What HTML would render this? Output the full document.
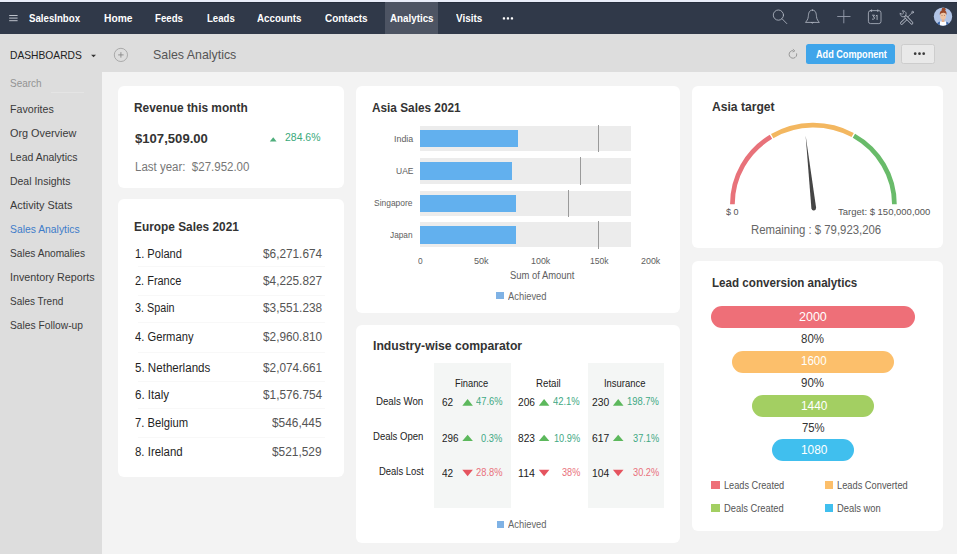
<!DOCTYPE html>
<html>
<head>
<meta charset="utf-8">
<style>
*{box-sizing:border-box;margin:0;padding:0}
html,body{width:957px;height:554px;overflow:hidden}
body{font-family:"Liberation Sans",sans-serif;background:#f3f3f3;position:relative}
.a{position:absolute}
.t{position:absolute;white-space:nowrap;line-height:1;transform-origin:0 0}
</style>
</head>
<body>
<div class="a" style="left:0.0px;top:0.0px;width:957.0px;height:2.0px;background:#e9edf9"></div>
<div class="a" style="left:0.0px;top:1.7px;width:957.0px;height:32.3px;background:#303949"></div>
<div class="a" style="left:0.0px;top:1.7px;width:957.0px;height:1.0px;background:#272f3e"></div>
<div class="a" style="left:385.1px;top:2.0px;width:53.3px;height:32.0px;background:#4d5463"></div>
<div class="a" style="left:0.0px;top:34.0px;width:957.0px;height:38.4px;background:#dddddd"></div>
<div class="a" style="left:0.0px;top:72.4px;width:102.0px;height:481.6px;background:#dddddd"></div>
<div class="a" style="left:118.0px;top:86.0px;width:226.0px;height:102.2px;background:#fff;border-radius:6px"></div>
<div class="a" style="left:118.0px;top:199.0px;width:226.0px;height:277.5px;background:#fff;border-radius:6px"></div>
<div class="a" style="left:355.5px;top:86.2px;width:324.9px;height:227.0px;background:#fff;border-radius:6px"></div>
<div class="a" style="left:355.5px;top:325.3px;width:324.9px;height:217.3px;background:#fff;border-radius:6px"></div>
<div class="a" style="left:692.0px;top:86.0px;width:250.5px;height:161.8px;background:#fff;border-radius:6px"></div>
<div class="a" style="left:692.0px;top:260.8px;width:250.5px;height:270.7px;background:#fff;border-radius:6px"></div>
<div class="a" style="left:806.0px;top:43.7px;width:88.7px;height:20.1px;background:#3fa5ea;border-radius:2.5px"></div>
<div class="a" style="left:901.3px;top:43.6px;width:34.2px;height:20.2px;background:#e9e9e9;border-radius:2.5px;border:1px solid #cdcdcd"></div>
<div class="a" style="left:50.6px;top:92.3px;width:33.5px;height:0.9px;background:#e4e4e4"></div>
<div class="a" style="left:138.0px;top:266.3px;width:187.0px;height:1.0px;background:#f8f8f8"></div>
<div class="a" style="left:138.0px;top:294.7px;width:187.0px;height:1.0px;background:#f8f8f8"></div>
<div class="a" style="left:138.0px;top:321.8px;width:187.0px;height:1.0px;background:#f8f8f8"></div>
<div class="a" style="left:138.0px;top:351.5px;width:187.0px;height:1.0px;background:#f8f8f8"></div>
<div class="a" style="left:138.0px;top:381.0px;width:187.0px;height:1.0px;background:#f8f8f8"></div>
<div class="a" style="left:138.0px;top:408.0px;width:187.0px;height:1.0px;background:#f8f8f8"></div>
<div class="a" style="left:138.0px;top:436.5px;width:187.0px;height:1.0px;background:#f8f8f8"></div>
<div class="a" style="left:420.3px;top:125.5px;width:211.1px;height:25.7px;background:#ececec"></div>
<div class="a" style="left:420.3px;top:129.7px;width:97.4px;height:17.8px;background:#62b0ee"></div>
<div class="a" style="left:597.5px;top:124.7px;width:1.1px;height:27.7px;background:#9a9a9a"></div>
<div class="a" style="left:420.3px;top:158.2px;width:211.1px;height:25.9px;background:#ececec"></div>
<div class="a" style="left:420.3px;top:162.4px;width:91.3px;height:17.4px;background:#62b0ee"></div>
<div class="a" style="left:579.7px;top:157.4px;width:1.1px;height:27.9px;background:#9a9a9a"></div>
<div class="a" style="left:420.3px;top:190.7px;width:211.1px;height:24.9px;background:#ececec"></div>
<div class="a" style="left:420.3px;top:194.9px;width:95.6px;height:17.4px;background:#62b0ee"></div>
<div class="a" style="left:568.0px;top:189.9px;width:1.1px;height:26.9px;background:#9a9a9a"></div>
<div class="a" style="left:420.3px;top:221.9px;width:211.1px;height:25.6px;background:#ececec"></div>
<div class="a" style="left:420.3px;top:226.2px;width:95.6px;height:17.4px;background:#62b0ee"></div>
<div class="a" style="left:597.5px;top:221.1px;width:1.1px;height:27.6px;background:#9a9a9a"></div>
<div class="a" style="left:496.2px;top:291.6px;width:7.6px;height:7.8px;background:#7fb2e5"></div>
<div class="a" style="left:434.2px;top:362.6px;width:76.7px;height:145.5px;background:#f4f6f5"></div>
<div class="a" style="left:588.0px;top:362.6px;width:76.4px;height:145.5px;background:#f4f6f5"></div>
<div class="a" style="left:497.4px;top:521.2px;width:7.1px;height:7.1px;background:#7fb2e5"></div>
<div class="a" style="left:710.6px;top:306.2px;width:204.6px;height:22.1px;background:#ee6f78;border-radius:11.2px"></div>
<div class="a" style="left:731.9px;top:350.8px;width:162.6px;height:22.0px;background:#fcbf6b;border-radius:11.2px"></div>
<div class="a" style="left:751.8px;top:394.9px;width:122.2px;height:22.0px;background:#a3cf62;border-radius:11.2px"></div>
<div class="a" style="left:771.7px;top:439.0px;width:82.4px;height:22.2px;background:#40bfee;border-radius:11.2px"></div>
<div class="a" style="left:711.4px;top:481.3px;width:8.3px;height:8.0px;background:#ee6f78"></div>
<div class="a" style="left:824.9px;top:481.3px;width:8.3px;height:8.0px;background:#fcbf6b"></div>
<div class="a" style="left:711.4px;top:504.4px;width:8.3px;height:8.0px;background:#a3cf62"></div>
<div class="a" style="left:824.9px;top:504.4px;width:8.3px;height:8.0px;background:#40bfee"></div>
<svg class="a" style="left:0;top:0" width="957" height="554" viewBox="0 0 957 554"><path d="M732.40 204.30A81.0 79.2 0 0 1 770.96 136.84" stroke="#e8727a" stroke-width="4.7" fill="none"/><path d="M772.17 136.13A81.0 79.2 0 0 1 852.67 135.03" stroke="#f3b760" stroke-width="4.7" fill="none"/><path d="M853.90 135.71A81.0 79.2 0 0 1 894.40 204.30" stroke="#69bb6a" stroke-width="4.7" fill="none"/><path d="M805.6 135.3L816.1 207.8A2.4 2.8 0 0 1 811.4 208.6Z" fill="#454545"/><path d="M269.8 141.4L273.2 137.2L276.6 141.4Z" fill="#4fae7c"/><path d="M462.3 405.8L467.6 398.9L472.9 405.8Z" fill="#5cb85c"/><path d="M462.3 441.0L467.6 434.8L472.9 441.0Z" fill="#5cb85c"/><path d="M462.3 469.7L472.9 469.7L467.6 476.2Z" fill="#e5545f"/><path d="M538.8 405.8L544.1 398.9L549.4 405.8Z" fill="#5cb85c"/><path d="M538.8 441.0L544.1 434.8L549.4 441.0Z" fill="#5cb85c"/><path d="M538.8 469.7L549.4 469.7L544.1 476.2Z" fill="#e5545f"/><path d="M612.9 405.8L618.2 398.9L623.5 405.8Z" fill="#5cb85c"/><path d="M612.9 441.0L618.2 434.8L623.5 441.0Z" fill="#5cb85c"/><path d="M612.9 469.7L623.5 469.7L618.2 476.2Z" fill="#e5545f"/><g fill="none" stroke-linecap="round" stroke-linejoin="round">
<path d="M9.2 15.5H17.6M9.2 18.1H17.6M9.2 20.7H17.6" stroke="#cdd1da" stroke-width="0.9" stroke-linecap="butt"/>
<g fill="#ffffff" stroke="none"><rect x="502.8" y="17.3" width="2.3" height="2.3" rx="0.6"/><rect x="506.8" y="17.3" width="2.3" height="2.3" rx="0.6"/><rect x="510.8" y="17.3" width="2.3" height="2.3" rx="0.6"/></g>
<g stroke="#b9bfca" stroke-width="0.8">
<circle cx="778.4" cy="15.1" r="5.1"/><path d="M782.1 18.8L786.8 23.6"/>
<path d="M812.4 10.1C808.9 10.1 808.6 13.4 808.3 16.6C808.1 19.4 806.6 21 805.5 22.4H819.3C818.2 21 816.7 19.4 816.5 16.6C816.2 13.4 815.9 10.1 812.4 10.1Z"/><path d="M811.4 22.7Q812.4 23.9 813.4 22.7"/>
</g>
<path d="M837.6 16.5H850.1M843.8 10.2V22.9" stroke="#959cab" stroke-width="0.9"/>
<g stroke="#b3b9c5" stroke-width="0.8">
<rect x="868.4" y="10.6" width="12.6" height="13" rx="2.2"/>
<path d="M871.6 9.8V11.6M877.8 9.8V11.6" stroke-width="0.8"/>
<circle cx="912.6" cy="12.2" r="0.9"/><path d="M911.9 12.9L907.6 17.2"/>
<path d="M906.6 18.5L901.7 23.2" stroke-width="3.1"/><path d="M906.6 18.5L901.7 23.2" stroke="#303949" stroke-width="1.5"/>
<path d="M905.9 16.9L911.8 23" stroke-width="3.1"/><path d="M905.9 16.9L911.8 23" stroke="#303949" stroke-width="1.5"/>
<path d="M902.7 10.9A3 3 0 1 1 900.2 13.4"/><path d="M902.7 10.9L903.6 13L902.4 14.3L900.2 13.4" stroke-width="0.7"/>
</g>
</g>
<path d="M872.5 15.2H874.5L873.3 16.9Q874.8 17.1 874.6 18.3Q874.2 19.6 872.4 19.2M876 16L877.1 15.1V19.5" stroke="#c3c8d2" stroke-width="0.8" fill="none" stroke-linecap="round" stroke-linejoin="round"/>
<g>
<clipPath id="av"><circle cx="943" cy="16.6" r="9.2"/></clipPath>
<circle cx="943" cy="16.6" r="9.2" fill="#b1c4e6"/>
<g clip-path="url(#av)">
<path d="M936 27C936.4 23.2 938.2 21.8 940.2 21.4H945.8C947.8 21.8 949.6 23.2 950 27Z" fill="#3463ab"/>
<path d="M940 21.3H946.1L946.6 27H939.6Z" fill="#ffffff"/>
<rect x="941.8" y="18.6" width="2.6" height="3.4" fill="#e6b08c"/>
<ellipse cx="943.1" cy="15.7" rx="2.95" ry="3.9" fill="#efc3a2"/>
<path d="M939.9 15C939.3 11.6 941.3 9.9 943.4 9.9C945.8 9.9 947.1 11.9 946.4 15.1C945.9 13.3 944.9 12.6 943.2 12.8C941.5 12.8 940.5 13.6 939.9 15Z" fill="#9b4a2a"/>
<ellipse cx="943.7" cy="9.3" rx="1.9" ry="1.7" fill="#9b4a2a"/>
<circle cx="942" cy="15.4" r="0.42" fill="#5b3a2c"/><circle cx="944.3" cy="15.4" r="0.42" fill="#5b3a2c"/>
</g>
</g>
<path d="M91.1 54.8H96L93.55 57.2Z" fill="#333"/>
<circle cx="120.9" cy="54.9" r="6.6" fill="none" stroke="#9c9c9c" stroke-width="0.8"/>
<path d="M118.2 54.9H123.6M120.9 52.2V57.6" stroke="#888" stroke-width="0.9" fill="none"/>
<path d="M793.2 50.6A3.8 3.8 0 1 0 796.6 53.4" stroke="#8a8a8a" stroke-width="0.85" fill="none"/>
<path d="M792.9 49.1L794.8 50.9L792.7 52" stroke="#8a8a8a" stroke-width="0.8" fill="none" stroke-linejoin="round"/>
<g fill="#3a3a3a"><circle cx="915.2" cy="53.7" r="1.35"/><circle cx="919.5" cy="53.7" r="1.35"/><circle cx="923.7" cy="53.7" r="1.35"/></g>
</svg>
<div class="t" style="left:29.06px;top:13.38px;font-size:11px;color:#ffffff;transform:scaleX(0.8787);font-weight:bold">SalesInbox</div>
<div class="t" style="left:104.03px;top:13.38px;font-size:11px;color:#ffffff;transform:scaleX(0.9303);font-weight:bold">Home</div>
<div class="t" style="left:154.96px;top:13.38px;font-size:11px;color:#ffffff;transform:scaleX(0.8785);font-weight:bold">Feeds</div>
<div class="t" style="left:207.06px;top:13.38px;font-size:11px;color:#ffffff;transform:scaleX(0.8722);font-weight:bold">Leads</div>
<div class="t" style="left:257.35px;top:13.38px;font-size:11px;color:#ffffff;transform:scaleX(0.8884);font-weight:bold">Accounts</div>
<div class="t" style="left:324.74px;top:13.38px;font-size:11px;color:#ffffff;transform:scaleX(0.9059);font-weight:bold">Contacts</div>
<div class="t" style="left:389.95px;top:13.38px;font-size:11px;color:#ffffff;transform:scaleX(0.8898);font-weight:bold">Analytics</div>
<div class="t" style="left:455.74px;top:13.38px;font-size:11px;color:#ffffff;transform:scaleX(0.9031);font-weight:bold">Visits</div>
<div class="t" style="left:9.73px;top:50.09px;font-size:11.5px;color:#222;transform:scaleX(0.8927)">DASHBOARDS</div>
<div class="t" style="left:152.81px;top:48.39px;font-size:13.5px;color:#555;transform:scaleX(0.9176)">Sales Analytics</div>
<div class="t" style="left:815.99px;top:48.61px;font-size:10.5px;color:#fff;transform:scaleX(0.8680);font-weight:bold">Add Component</div>
<div class="t" style="left:9.74px;top:78.38px;font-size:11px;color:#939393;transform:scaleX(0.9074)">Search</div>
<div class="t" style="left:9.60px;top:103.64px;font-size:11.5px;color:#3a3a3a;transform:scaleX(0.9258)">Favorites</div>
<div class="t" style="left:9.59px;top:127.54px;font-size:11.5px;color:#3a3a3a;transform:scaleX(0.9430)">Org Overview</div>
<div class="t" style="left:9.61px;top:151.64px;font-size:11.5px;color:#3a3a3a;transform:scaleX(0.9112)">Lead Analytics</div>
<div class="t" style="left:9.61px;top:175.54px;font-size:11.5px;color:#3a3a3a;transform:scaleX(0.9098)">Deal Insights</div>
<div class="t" style="left:9.59px;top:199.54px;font-size:11.5px;color:#3a3a3a;transform:scaleX(0.9477)">Activity Stats</div>
<div class="t" style="left:9.62px;top:223.64px;font-size:11.5px;color:#3d7cc9;transform:scaleX(0.8995)">Sales Analytics</div>
<div class="t" style="left:9.63px;top:247.64px;font-size:11.5px;color:#3a3a3a;transform:scaleX(0.8819)">Sales Anomalies</div>
<div class="t" style="left:9.60px;top:271.64px;font-size:11.5px;color:#3a3a3a;transform:scaleX(0.9330)">Inventory Reports</div>
<div class="t" style="left:9.64px;top:295.64px;font-size:11.5px;color:#3a3a3a;transform:scaleX(0.8682)">Sales Trend</div>
<div class="t" style="left:9.63px;top:319.54px;font-size:11.5px;color:#3a3a3a;transform:scaleX(0.8920)">Sales Follow-up</div>
<div class="t" style="left:133.83px;top:100.79px;font-size:13.5px;color:#333;transform:scaleX(0.8814);font-weight:bold">Revenue this month</div>
<div class="t" style="left:134.57px;top:132.06px;font-size:13.5px;color:#333;transform:scaleX(0.9711);font-weight:bold">$107,509.00</div>
<div class="t" style="left:284.71px;top:131.79px;font-size:11.5px;color:#3aa97b;transform:scaleX(0.9096)">284.6%</div>
<div class="t" style="left:134.66px;top:160.76px;font-size:12.5px;color:#777;transform:scaleX(0.9196)">Last year:  $27.952.00</div>
<div class="t" style="left:134.24px;top:220.29px;font-size:13.5px;color:#333;transform:scaleX(0.8792);font-weight:bold">Europe Sales 2021</div>
<div class="t" style="left:135.08px;top:247.86px;font-size:12.5px;color:#1f1f1f;transform:scaleX(0.8878)">1. Poland</div>
<div class="t" style="left:262.84px;top:247.93px;font-size:12.5px;color:#555;transform:scaleX(0.9447)">$6,271.674</div>
<div class="t" style="left:135.09px;top:274.96px;font-size:12.5px;color:#1f1f1f;transform:scaleX(0.8767)">2. France</div>
<div class="t" style="left:262.84px;top:275.02px;font-size:12.5px;color:#555;transform:scaleX(0.9447)">$4,225.827</div>
<div class="t" style="left:135.10px;top:301.76px;font-size:12.5px;color:#1f1f1f;transform:scaleX(0.8632)">3. Spain</div>
<div class="t" style="left:262.84px;top:301.82px;font-size:12.5px;color:#555;transform:scaleX(0.9447)">$3,551.238</div>
<div class="t" style="left:135.07px;top:330.76px;font-size:12.5px;color:#1f1f1f;transform:scaleX(0.8957)">4. Germany</div>
<div class="t" style="left:262.84px;top:330.82px;font-size:12.5px;color:#555;transform:scaleX(0.9447)">$2,960.810</div>
<div class="t" style="left:135.05px;top:361.96px;font-size:12.5px;color:#1f1f1f;transform:scaleX(0.9261)">5. Netherlands</div>
<div class="t" style="left:262.84px;top:362.02px;font-size:12.5px;color:#555;transform:scaleX(0.9447)">$2,074.661</div>
<div class="t" style="left:135.05px;top:389.06px;font-size:12.5px;color:#1f1f1f;transform:scaleX(0.9259)">6. Italy</div>
<div class="t" style="left:262.84px;top:389.12px;font-size:12.5px;color:#555;transform:scaleX(0.9447)">$1,576.754</div>
<div class="t" style="left:135.07px;top:416.66px;font-size:12.5px;color:#1f1f1f;transform:scaleX(0.8990)">7. Belgium</div>
<div class="t" style="left:272.33px;top:416.73px;font-size:12.5px;color:#555;transform:scaleX(0.9513)">$546,445</div>
<div class="t" style="left:135.06px;top:445.66px;font-size:12.5px;color:#1f1f1f;transform:scaleX(0.9151)">8. Ireland</div>
<div class="t" style="left:272.33px;top:445.73px;font-size:12.5px;color:#555;transform:scaleX(0.9513)">$521,529</div>
<div class="t" style="left:372.44px;top:100.99px;font-size:13.5px;color:#333;transform:scaleX(0.8744);font-weight:bold">Asia Sales 2021</div>
<div class="t" style="left:393.90px;top:134.09px;font-size:9.5px;color:#5e5e5e;transform:scaleX(0.9347)">India</div>
<div class="t" style="left:395.72px;top:166.44px;font-size:9.5px;color:#5e5e5e;transform:scaleX(0.8934)">UAE</div>
<div class="t" style="left:374.43px;top:197.99px;font-size:9.5px;color:#5e5e5e;transform:scaleX(0.8881)">Singapore</div>
<div class="t" style="left:389.64px;top:229.69px;font-size:9.5px;color:#5e5e5e;transform:scaleX(0.8715)">Japan</div>
<div class="t" style="left:418.13px;top:255.84px;font-size:9.5px;color:#5e5e5e;transform:scaleX(0.8805)">0</div>
<div class="t" style="left:473.79px;top:255.84px;font-size:9.5px;color:#5e5e5e;transform:scaleX(0.9567)">50k</div>
<div class="t" style="left:530.70px;top:255.84px;font-size:9.5px;color:#5e5e5e;transform:scaleX(0.9347)">100k</div>
<div class="t" style="left:590.02px;top:255.84px;font-size:9.5px;color:#5e5e5e;transform:scaleX(0.9008)">150k</div>
<div class="t" style="left:640.80px;top:255.84px;font-size:9.5px;color:#5e5e5e;transform:scaleX(0.9347)">200k</div>
<div class="t" style="left:510.07px;top:271.05px;font-size:10px;color:#5e5e5e;transform:scaleX(0.9422)">Sum of Amount</div>
<div class="t" style="left:507.58px;top:291.85px;font-size:10px;color:#666;transform:scaleX(0.9363)">Achieved</div>
<div class="t" style="left:372.72px;top:339.19px;font-size:13.5px;color:#333;transform:scaleX(0.9035);font-weight:bold">Industry-wise comparator</div>
<div class="t" style="left:455.38px;top:377.91px;font-size:10.5px;color:#222;transform:scaleX(0.8880)">Finance</div>
<div class="t" style="left:535.56px;top:377.91px;font-size:10.5px;color:#222;transform:scaleX(0.9224)">Retail</div>
<div class="t" style="left:604.17px;top:377.91px;font-size:10.5px;color:#222;transform:scaleX(0.8992)">Insurance</div>
<div class="t" style="left:376.06px;top:396.11px;font-size:10.5px;color:#222;transform:scaleX(0.9219)">Deals Won</div>
<div class="t" style="left:372.87px;top:431.11px;font-size:10.5px;color:#222;transform:scaleX(0.9084)">Deals Open</div>
<div class="t" style="left:378.57px;top:465.61px;font-size:10.5px;color:#222;transform:scaleX(0.9006)">Deals Lost</div>
<div class="t" style="left:441.84px;top:397.06px;font-size:10.5px;color:#222;transform:scaleX(0.9562)">62</div>
<div class="t" style="left:475.58px;top:396.26px;font-size:10.5px;color:#3fa984;transform:scaleX(0.8890)">47.6%</div>
<div class="t" style="left:518.13px;top:397.06px;font-size:10.5px;color:#222;transform:scaleX(0.9683)">206</div>
<div class="t" style="left:553.07px;top:396.26px;font-size:10.5px;color:#3fa984;transform:scaleX(0.8991)">42.1%</div>
<div class="t" style="left:592.42px;top:397.06px;font-size:10.5px;color:#222;transform:scaleX(0.9854)">230</div>
<div class="t" style="left:626.87px;top:396.26px;font-size:10.5px;color:#3fa984;transform:scaleX(0.8948)">198.7%</div>
<div class="t" style="left:441.85px;top:433.37px;font-size:10.5px;color:#222;transform:scaleX(0.9398)">296</div>
<div class="t" style="left:480.88px;top:432.56px;font-size:10.5px;color:#3fa984;transform:scaleX(0.8846)">0.3%</div>
<div class="t" style="left:518.13px;top:433.37px;font-size:10.5px;color:#222;transform:scaleX(0.9683)">823</div>
<div class="t" style="left:553.79px;top:432.56px;font-size:10.5px;color:#3fa984;transform:scaleX(0.8756)">10.9%</div>
<div class="t" style="left:592.42px;top:433.37px;font-size:10.5px;color:#222;transform:scaleX(0.9854)">617</div>
<div class="t" style="left:632.58px;top:432.56px;font-size:10.5px;color:#3fa984;transform:scaleX(0.8789)">37.1%</div>
<div class="t" style="left:441.84px;top:468.26px;font-size:10.5px;color:#222;transform:scaleX(0.9562)">42</div>
<div class="t" style="left:475.58px;top:467.46px;font-size:10.5px;color:#e9717c;transform:scaleX(0.8890)">28.8%</div>
<div class="t" style="left:518.10px;top:468.26px;font-size:10.5px;color:#222;transform:scaleX(1.0135)">114</div>
<div class="t" style="left:561.59px;top:467.46px;font-size:10.5px;color:#e9717c;transform:scaleX(0.8696)">38%</div>
<div class="t" style="left:592.42px;top:468.26px;font-size:10.5px;color:#222;transform:scaleX(0.9854)">104</div>
<div class="t" style="left:632.58px;top:467.46px;font-size:10.5px;color:#e9717c;transform:scaleX(0.8789)">30.2%</div>
<div class="t" style="left:507.88px;top:519.65px;font-size:10px;color:#666;transform:scaleX(0.9363)">Achieved</div>
<div class="t" style="left:711.82px;top:99.79px;font-size:13.5px;color:#333;transform:scaleX(0.8973);font-weight:bold">Asia target</div>
<div class="t" style="left:725.79px;top:206.63px;font-size:9.5px;color:#555;transform:scaleX(0.9505)">$ 0</div>
<div class="t" style="left:837.97px;top:206.63px;font-size:9.5px;color:#555;transform:scaleX(0.9992)">Target: $ 150,000,000</div>
<div class="t" style="left:751.16px;top:223.76px;font-size:12.5px;color:#666;transform:scaleX(0.9094)">Remaining : $ 79,923,206</div>
<div class="t" style="left:711.95px;top:276.49px;font-size:13.5px;color:#333;transform:scaleX(0.8607);font-weight:bold">Lead conversion analytics</div>
<div class="t" style="left:798.60px;top:311.02px;font-size:12.5px;color:#fff;transform:scaleX(0.9996)">2000</div>
<div class="t" style="left:801.46px;top:333.23px;font-size:12.5px;color:#333;transform:scaleX(0.9189)">80%</div>
<div class="t" style="left:800.86px;top:355.23px;font-size:12.5px;color:#fff;transform:scaleX(0.9204)">1600</div>
<div class="t" style="left:801.46px;top:377.02px;font-size:12.5px;color:#333;transform:scaleX(0.9189)">90%</div>
<div class="t" style="left:800.84px;top:399.93px;font-size:12.5px;color:#fff;transform:scaleX(0.9492)">1440</div>
<div class="t" style="left:802.37px;top:421.73px;font-size:12.5px;color:#333;transform:scaleX(0.9069)">75%</div>
<div class="t" style="left:800.84px;top:444.02px;font-size:12.5px;color:#fff;transform:scaleX(0.9492)">1080</div>
<div class="t" style="left:723.69px;top:480.55px;font-size:10px;color:#555;transform:scaleX(0.9179)">Leads Created</div>
<div class="t" style="left:837.38px;top:480.55px;font-size:10px;color:#555;transform:scaleX(0.9284)">Leads Converted</div>
<div class="t" style="left:723.68px;top:503.65px;font-size:10px;color:#555;transform:scaleX(0.9343)">Deals Created</div>
<div class="t" style="left:837.38px;top:503.65px;font-size:10px;color:#555;transform:scaleX(0.9361)">Deals won</div>
</body>
</html>
